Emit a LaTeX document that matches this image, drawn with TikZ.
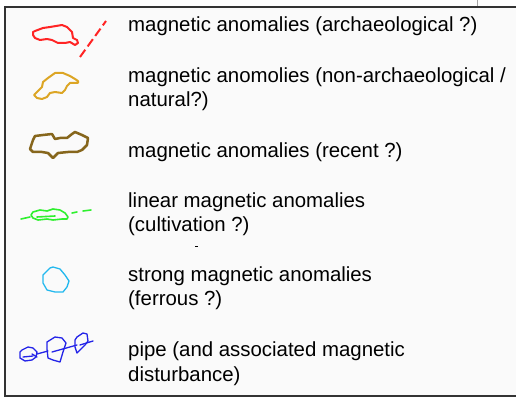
\documentclass[tikz,border=0pt]{standalone}
\usepackage{fontspec}
\setmainfont{Liberation Sans}
\definecolor{bgc}{HTML}{FAFAFA}
\definecolor{framec}{HTML}{333333}
\definecolor{redc}{HTML}{FF2424}
\definecolor{goldc}{HTML}{DCA524}
\definecolor{brownc}{HTML}{86661C}
\definecolor{greenc}{HTML}{2EF02E}
\definecolor{cyanc}{HTML}{22B8EE}
\definecolor{bluec}{HTML}{2424E8}
\tikzset{
  legtext/.style={anchor=base west, inner sep=0pt, align=left, font=\fontsize{20.4}{24.5}\selectfont},
  blob/.style={line width=#1, line join=round, line cap=round},
}
\begin{document}
\begin{tikzpicture}[x=1pt,y=-1pt]
\useasboundingbox (0,0) rectangle (516,398);
\fill[white] (0,0) rectangle (516,398);
\fill[bgc] (5,7) rectangle (516,396);
\draw[framec, line width=2pt] (516,7) -- (5,7) -- (5,396) -- (516,396);
\draw[gray!70, line width=0.8pt] (477,0) -- (477,6);
% texts (base = baseline of last line)
\node[legtext] (t1) at (128,31.5) {magnetic anomalies (archaeological ?)};
\node[legtext] (t2) at (128,107) {magnetic anomolies (non-archaeological /\\natural?)};
\node[legtext] (t3) at (128,158) {magnetic anomalies (recent ?)};
\node[legtext] (t4) at (128,231.5) {linear magnetic anomalies\\(cultivation ?)};
\node[legtext] (t5) at (128,305.5) {strong magnetic anomalies\\(ferrous ?)};
\node[legtext] (t6) at (128,381) {pipe (and associated magnetic\\disturbance)};
\draw[line width=1pt] (195,246) -- (198,246);
% red
\draw[redc, blob=2pt] (33,32) -- (35,31) -- (43,28) -- (50,27) -- (62,25) -- (67,27) -- (72,32) -- (73,38) -- (77,40) -- (78,43) -- (75,45) -- (70,42) -- (65,43) -- (58,43) -- (52,40) -- (47,39) -- (40,40) -- (35,38) -- (33,35) -- cycle;
\draw[redc, line width=2pt, dash pattern=on 9pt off 4pt] (80,57) -- (106,21);
% gold
\draw[goldc, blob=2pt] (34,95) -- (38,91) -- (42,87) -- (43,82) -- (48,78) -- (55,73) -- (63,73) -- (70,76) -- (75,79) -- (78,81) -- (78,83) -- (70,83) -- (67,86) -- (65,90) -- (62,93) -- (55,92) -- (50,93) -- (47,97) -- (42,99) -- (37,98) -- cycle;
% brown
\draw[brownc, blob=2.5pt] (30,149) -- (33,140) -- (35,136) -- (43,135) -- (52,134) -- (55,139) -- (60,138) -- (67,138) -- (72,134) -- (75,132) -- (82,135) -- (88,138) -- (87,145) -- (82,150) -- (77,152) -- (68,152) -- (58,153) -- (53,158) -- (48,153) -- (42,152) -- (33,152) -- cycle;
% green
\draw[greenc, blob=1.6pt] (31,215) -- (33,212) -- (40,210) -- (47,211) -- (53,209) -- (60,210) -- (65,213) -- (68,217) -- (67,219) -- (62,219) -- (53,220) -- (47,219) -- (38,220) -- (33,218) -- cycle;
\draw[greenc, blob=1.6pt] (37,217) -- (55,216);
\draw[greenc, blob=1.6pt] (21,219) -- (30,217);
\draw[greenc, blob=1.6pt] (72,213) -- (77,212);
\draw[greenc, blob=1.6pt] (83,211) -- (91,210);
% cyan
\draw[cyanc, blob=1.3pt] (43,275) -- (50,268) -- (53,267) -- (60,269) -- (65,275) -- (69,281) -- (67,287) -- (63,292) -- (55,292) -- (47,290) -- (43,283) -- cycle;
% blue
\draw[bluec, blob=1.3pt] (20,352) -- (22,350) -- (28,347) -- (33,348) -- (37,352) -- (36,357) -- (32,360) -- (25,361) -- (20,358) -- cycle;
\draw[bluec, blob=1.3pt] (23,357) -- (33,356);
\draw[bluec, blob=1.3pt] (32,354) -- (37,357);
\draw[bluec, blob=1.3pt] (37,354) -- (48,351);
\draw[bluec, blob=1.3pt] (47,342) -- (55,337) -- (62,338) -- (66,343) -- (63,352) -- (60,362) -- (53,360) -- (48,358) -- (47,349) -- cycle;
\draw[bluec, blob=1.3pt] (52,352) -- (77,345);
\draw[bluec, blob=1.3pt] (75,340) -- (77,337) -- (83,333) -- (87,334) -- (88,341) -- (85,345) -- (77,353) -- (75,347) -- cycle;
\draw[bluec, blob=1.3pt] (80,345) -- (93,341);
\end{tikzpicture}
\end{document}
